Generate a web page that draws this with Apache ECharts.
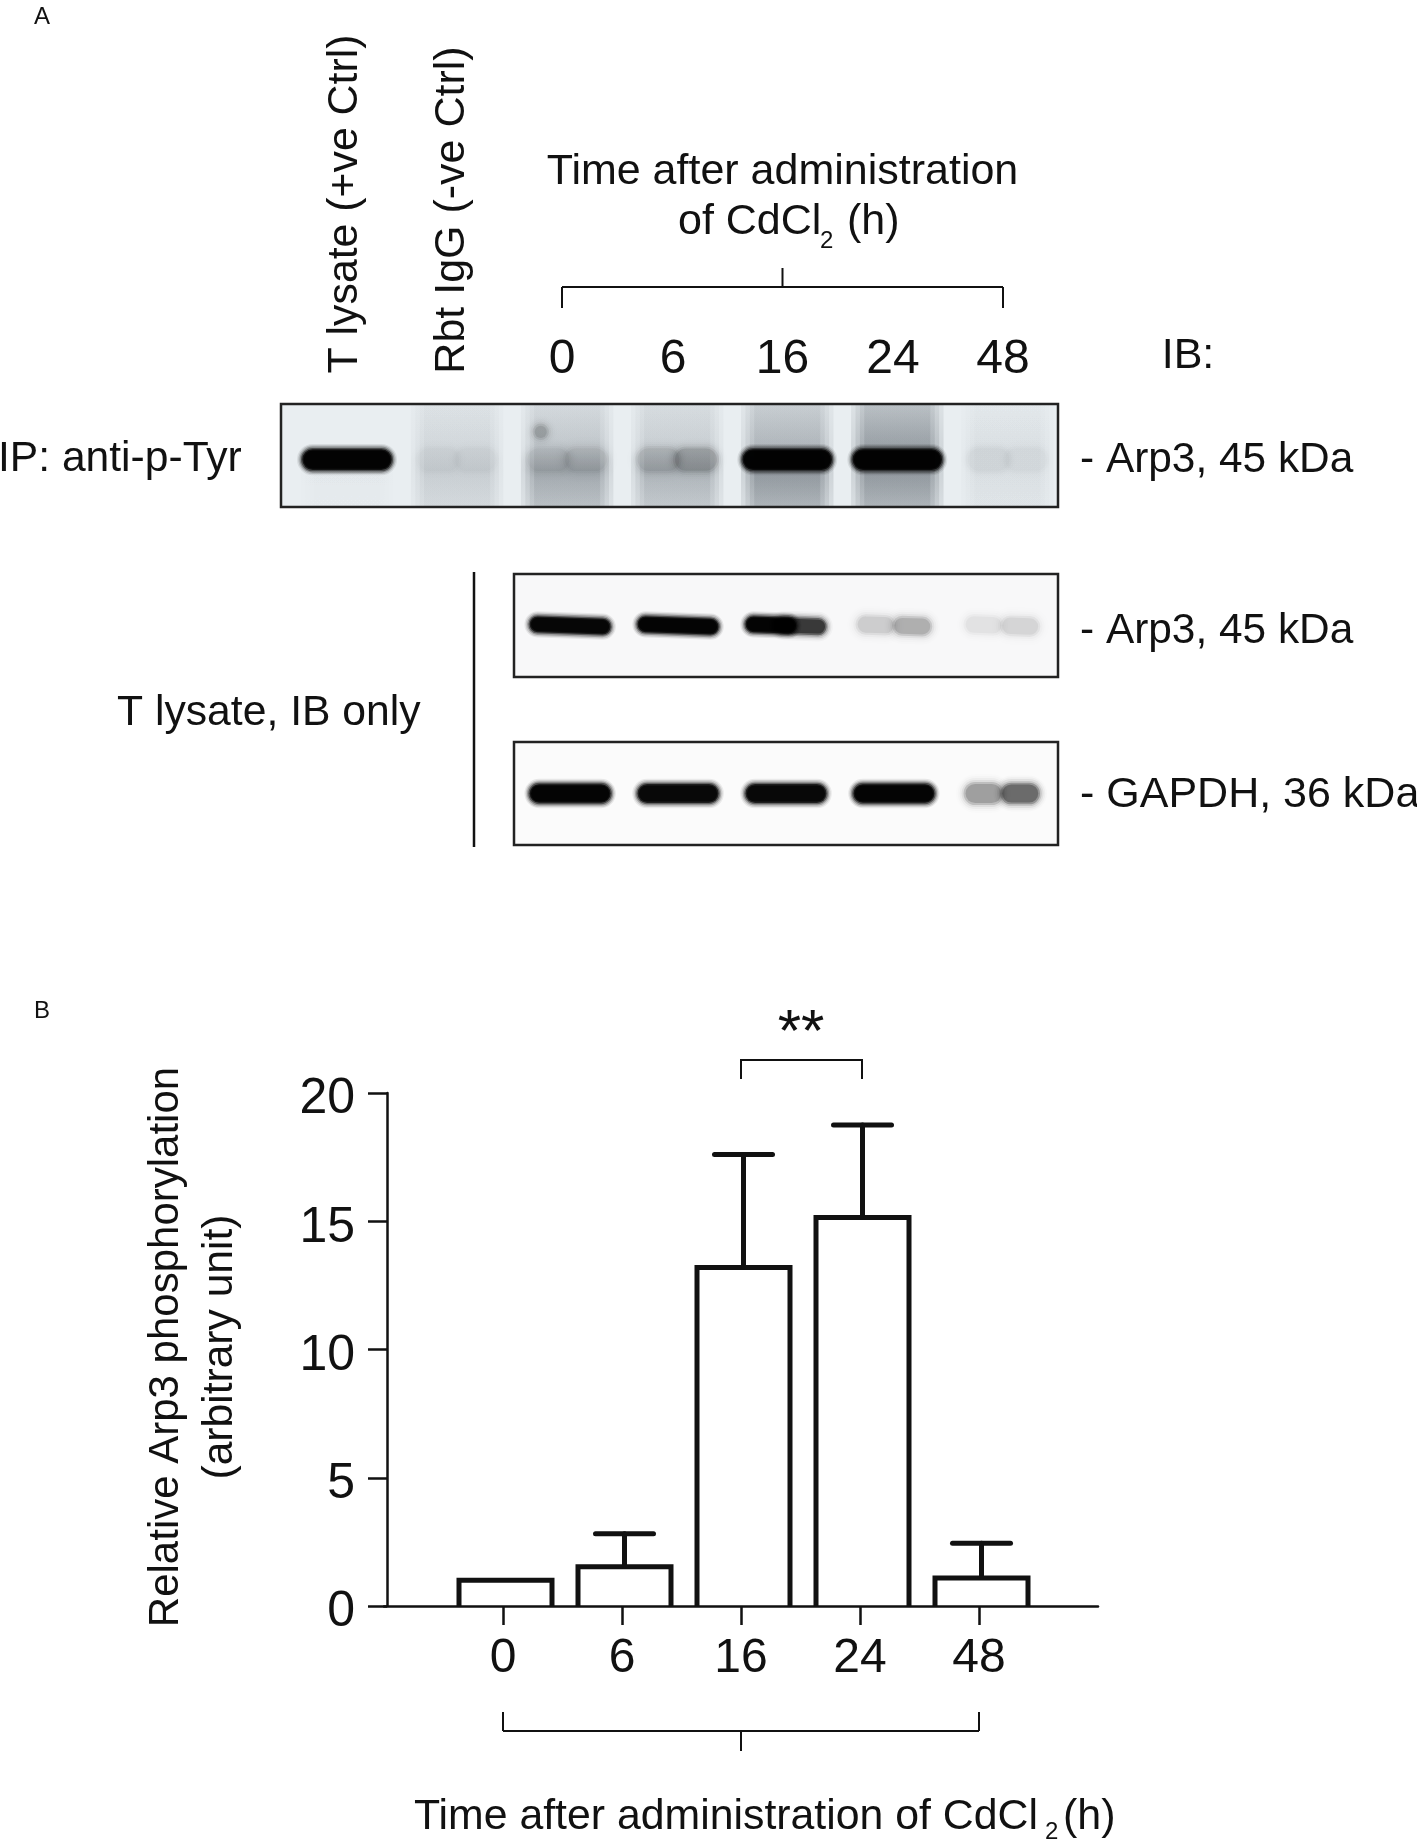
<!DOCTYPE html>
<html><head><meta charset="utf-8">
<style>html,body{margin:0;padding:0;background:#fff}#c{width:1417px;height:1842px}</style>
<script src="https://cdn.jsdelivr.net/npm/echarts@6/dist/echarts.min.js"></script>
</head><body><div id="c"></div>
<script>
// ---------- data ----------
var timeCategories = ['0', '6', '16', '24', '48'];
var meanValues = [1.0, 1.53, 13.2, 15.15, 1.09];
var upperValues = [null, 2.82, 17.6, 18.75, 2.45];
var yTicks = [0, 5, 10, 15, 20];
// blot band densities (0..1), lanes left to right
var ipLanes = ['T lysate', 'Rbt IgG', '0', '6', '16', '24', '48'];
var ipBandLeft = [0.98, 0.03, 0.08, 0.14, 0.98, 0.98, 0.04];
var ipBandRight = [0.98, 0.03, 0.10, 0.22, 0.98, 0.98, 0.03];
var ipSmearTop = [0.0, 0.10, 0.18, 0.15, 0.28, 0.40, 0.06];
var ipSmearBottom = [0.02, 0.13, 0.32, 0.26, 0.42, 0.42, 0.06];
var ipUpperSpot = [0, 0, 0.22, 0, 0, 0, 0];
var arp3BandLeft = [0.98, 0.98, 0.98, 0.16, 0.08];
var arp3BandRight = [0.97, 0.98, 0.75, 0.28, 0.13];
var gapdhBandLeft = [0.98, 0.98, 0.96, 0.98, 0.35];
var gapdhBandRight = [0.98, 0.96, 0.96, 0.98, 0.55];
// -----------------------------------------------

var INK = '#111';
var FONT = '"Liberation Sans", Arial, sans-serif';
var chart = echarts.init(document.getElementById('c'), null, {renderer: 'canvas'});

var LAYER_W = [0.08, 0.14, 0.25, 0.45, 0.75, 0.8];
function softCapsule(cx, cy, w, h, density) {
  var d = Math.min(density, 0.98);
  var e = Math.log(1 - d) / Math.log(0.02);
  var n = LAYER_W.length, kids = [];
  var step = 2.6 * (1 + (1 - d) * 0.8);
  var core = h * (1 + (1 - d) * 0.3);
  LAYER_W.forEach(function (wt, k) {
    var grow = (n - 1 - k) * step;
    var W = w + grow, H = core + grow;
    kids.push({type: 'rect',
      shape: {x: cx - W / 2, y: cy - H / 2, width: W, height: H, r: H / 2},
      style: {fill: 'rgba(0,0,0,' + (1 - Math.pow(1 - wt, e)) + ')'}});
  });
  return kids;
}
function bandSeries(g, left, right, bandFrac, thick, lobeW, tilt) {
  var rows = left.map(function (v, i) { return [i, v, right[i]]; });
  return {
    type: 'custom', xAxisIndex: g, yAxisIndex: g, clip: true, silent: true, data: rows, z: 3,
    renderItem: function (p, api) {
      var c = p.coordSys, lane = api.value(0);
      var y = c.y + c.height * bandFrac;
      var dl = api.value(1), dr = api.value(2);
      var mid = api.coord([lane, 0])[0];
      var merged = Math.min(dl, dr) > 0.9;
      var kids;
      if (merged) {
        var span = api.coord([lane + 0.14, 0])[0] - api.coord([lane - 0.14, 0])[0];
        kids = softCapsule(mid, y, span + lobeW, thick, Math.min(dl, dr));
      } else {
        var faint = Math.max(dl, dr) < 0.6;
        var off = faint ? 0.17 : 0.14, w = faint ? lobeW * 0.75 : lobeW;
        kids = softCapsule(api.coord([lane - off, 0])[0], y, w, thick, dl)
          .concat(softCapsule(api.coord([lane + off, 0])[0], y, w, thick, dr));
      }
      return {type: 'group', originX: mid, originY: y, rotation: -tilt, children: kids};
    }
  };
}
function spotSeries(g, vals, frac) {
  return {
    type: 'custom', xAxisIndex: g, yAxisIndex: g, clip: true, silent: true, z: 3,
    data: vals.map(function (v, i) { return [i, v]; }).filter(function (r) { return r[1] > 0; }),
    renderItem: function (p, api) {
      var c = p.coordSys;
      var x = api.coord([api.value(0) - 0.24, 0])[0];
      return {type: 'group', children: softCapsule(x, c.y + c.height * frac, 12, 10, api.value(1))};
    }
  };
}
function smearSeries(g, top, bottom) {
  return {
    type: 'custom', xAxisIndex: g, yAxisIndex: g, clip: true, silent: true, z: 2,
    data: top.map(function (v, i) { return [i, v, bottom[i]]; }),
    renderItem: function (p, api) {
      var c = p.coordSys, lane = api.value(0);
      var t = api.value(1), b = api.value(2), kids = [];
      // nested strips so the lane edges fade out
      [0.42, 0.38, 0.34, 0.30].forEach(function (half) {
        var x0 = api.coord([lane - half, 0])[0], x1 = api.coord([lane + half, 0])[0];
        kids.push({type: 'rect', shape: {x: x0, y: c.y, width: x1 - x0, height: c.height},
          style: {fill: new echarts.graphic.LinearGradient(0, 0, 0, 1, [
            {offset: 0, color: 'rgba(30,40,50,' + t * 0.16 + ')'},
            {offset: 0.45, color: 'rgba(30,40,50,' + t * 0.3 + ')'},
            {offset: 0.65, color: 'rgba(30,40,50,' + b * 0.32 + ')'},
            {offset: 1, color: 'rgba(30,40,50,' + b * 0.2 + ')'}])}});
      });
      return {type: 'group', children: kids};
    }
  };
}
function frameSeries(g) {
  return {
    type: 'custom', xAxisIndex: g, yAxisIndex: g, clip: false, silent: true, z: 6, data: [[0]],
    renderItem: function (p) {
      var c = p.coordSys;
      return {type: 'rect', shape: {x: c.x, y: c.y, width: c.width, height: c.height},
        style: {fill: 'none', stroke: '#222', lineWidth: 2.5}};
    }
  };
}
function hiddenAxis(g, lo, hi) {
  return {type: 'value', gridIndex: g, min: lo, max: hi, show: false};
}

function txt(x, y, s, size, align, extra) {
  return {type: 'text', x: x, y: y, rotation: (extra && extra.rotation) || 0, z: 10,
    style: {text: s, fill: INK, fontSize: size, fontFamily: (extra && extra.family) || FONT,
      align: align || 'left', verticalAlign: 'middle'}};
}
function line(x1, y1, x2, y2, w) {
  return {type: 'line', z: 10, shape: {x1: x1, y1: y1, x2: x2, y2: y2}, style: {stroke: INK, lineWidth: w || 2}};
}
var ROT = Math.PI / 2;
var NARROW = '"Liberation Sans Narrow", "Liberation Sans", sans-serif';
var graphics = [
  txt(34, 17, 'A', 24, 'left', {family: NARROW}),
  txt(34, 1011, 'B', 24, 'left', {family: NARROW}),
  txt(345, 204, 'T lysate (+ve Ctrl)', 42.8, 'center', {rotation: ROT}),
  txt(452, 210, 'Rbt IgG (-ve Ctrl)', 43, 'center', {rotation: ROT}),
  txt(782.5, 172, 'Time after administration', 43, 'center'),
  txt(678, 222, 'of CdCl', 43, 'left'),
  txt(820, 241, '2', 24, 'left'),
  txt(847, 222, '(h)', 43, 'left'),
  line(562, 287, 1003, 287), line(562, 287, 562, 308), line(1003, 287, 1003, 308), line(782.5, 268, 782.5, 287),
  txt(1188, 356, 'IB:', 43, 'center'),
  txt(-2, 459, 'IP: anti-p-Tyr', 42.6, 'left'),
  txt(1080, 460, '- Arp3, 45 kDa', 42.4, 'left'),
  txt(1080, 631, '- Arp3, 45 kDa', 42.4, 'left'),
  txt(1080, 795, '- GAPDH, 36 kDa', 43, 'left'),
  txt(117, 713, 'T lysate, IB only', 42.7, 'left'),
  line(474, 572, 474, 847, 2.5),
  txt(801, 1034, '**', 60, 'center'),
  line(741, 1060, 862, 1060), line(741, 1059, 741, 1079), line(862, 1059, 862, 1079),
  txt(166, 1347, 'Relative Arp3 phosphorylation', 42, 'center', {rotation: ROT}),
  txt(220, 1347, '(arbitrary unit)', 42.6, 'center', {rotation: ROT}),
  line(503, 1731, 979, 1731), line(503, 1712, 503, 1731), line(979, 1712, 979, 1731), line(741, 1731, 741, 1751),
  txt(414, 1817, 'Time after administration of CdCl', 42.8, 'left'),
  txt(1045, 1832, '2', 24, 'left'),
  txt(1063, 1817, '(h)', 43, 'left')
];
timeCategories.forEach(function (s, i) {
  graphics.push(txt([562, 673, 782.5, 893, 1003][i], 360, s, 48, 'center'));
});

var padded = [''].concat(timeCategories, ['']);
var barRows = [null].concat(meanValues, [null]);
var outlineRows = meanValues.map(function (v, i) { return [i + 1, v]; });
var errRows = timeCategories.map(function (c, i) { return [i + 1, meanValues[i], upperValues[i]]; })
  .filter(function (r) { return r[2] !== null; });
var BAR_W = 93;
var BAR_SHIFT = 2.5; // bars sit slightly right of their ticks in the figure

chart.setOption({
  animation: false,
  backgroundColor: '#fff',
  graphic: {elements: graphics},
  grid: [
    {left: 384, top: 1093, width: 714, height: 513},
    {left: 281, top: 404, width: 777, height: 103, show: true, backgroundColor: '#e9eef1', borderWidth: 0},
    {left: 514, top: 574, width: 544, height: 103, show: true, backgroundColor: '#f8f8f9', borderWidth: 0},
    {left: 514, top: 742, width: 544, height: 103, show: true, backgroundColor: '#fbfbfb', borderWidth: 0}
  ],
  xAxis: [
    {type: 'category', gridIndex: 0, data: padded, boundaryGap: false, z: 5,
      axisLine: {lineStyle: {color: INK, width: 2.5}},
      axisTick: {length: 19, lineStyle: {color: INK, width: 2.5},
        interval: function (i, v) { return v !== ''; }},
      axisLabel: {interval: 0, color: INK, fontSize: 48, fontFamily: FONT, margin: 29},
      splitLine: {show: false}},
    hiddenAxis(1, -0.6, 6.46), hiddenAxis(2, -0.52, 4.52), hiddenAxis(3, -0.52, 4.52)
  ],
  yAxis: [
    {type: 'value', gridIndex: 0, min: yTicks[0], max: yTicks[yTicks.length - 1], interval: yTicks[1] - yTicks[0],
      offset: -3,
      axisLine: {show: true, lineStyle: {color: INK, width: 2.5}},
      axisTick: {show: true, length: 19, lineStyle: {color: INK, width: 2.5}},
      axisLabel: {color: INK, margin: 32, formatter: '{v|{value}}',
        rich: {v: {fontSize: 50, fontFamily: FONT, color: INK, padding: [13, 0, 0, 0]}}},
      splitLine: {show: false}},
    hiddenAxis(1, 0, 1), hiddenAxis(2, 0, 1), hiddenAxis(3, 0, 1)
  ],
  series: [
    {type: 'bar', xAxisIndex: 0, yAxisIndex: 0, data: barRows, barWidth: BAR_W, silent: true, z: 3,
      itemStyle: {color: '#fff', borderWidth: 0}},
    {type: 'custom', xAxisIndex: 0, yAxisIndex: 0, silent: true, z: 4, clip: false, data: outlineRows,
      encode: {x: 0, y: 1},
      renderItem: function (p, api) {
        var t = api.coord([api.value(0), api.value(1)]);
        var base = api.coord([api.value(0), 0])[1];
        var x = t[0] + BAR_SHIFT;
        return {type: 'polyline',
          shape: {points: [[x - BAR_W / 2, base], [x - BAR_W / 2, t[1]], [x + BAR_W / 2, t[1]], [x + BAR_W / 2, base]]},
          style: {stroke: INK, lineWidth: 5, fill: 'none'}};
      }},
    {type: 'custom', xAxisIndex: 0, yAxisIndex: 0, silent: true, z: 2, clip: false, data: errRows,
      encode: {x: 0, y: [1, 2]},
      renderItem: function (p, api) {
        var a = api.coord([api.value(0), api.value(1)]);
        var b = api.coord([api.value(0), api.value(2)]);
        var x = a[0] + BAR_SHIFT;
        var st = {stroke: INK, lineWidth: 5, lineCap: 'round', fill: 'none'};
        return {type: 'group', children: [
          {type: 'line', shape: {x1: x, y1: a[1], x2: x, y2: b[1]}, style: st},
          {type: 'line', shape: {x1: x - 29, y1: b[1], x2: x + 29, y2: b[1]}, style: st}
        ]};
      }},
    smearSeries(1, ipSmearTop, ipSmearBottom),
    spotSeries(1, ipUpperSpot, 0.27),
    bandSeries(1, ipBandLeft, ipBandRight, 0.54, 18, 56, 0),
    frameSeries(1),
    bandSeries(2, arp3BandLeft, arp3BandRight, 0.5, 13, 48, 0.035),
    frameSeries(2),
    bandSeries(3, gapdhBandLeft, gapdhBandRight, 0.5, 16, 48, 0),
    frameSeries(3)
  ]
});
</script></body></html>
